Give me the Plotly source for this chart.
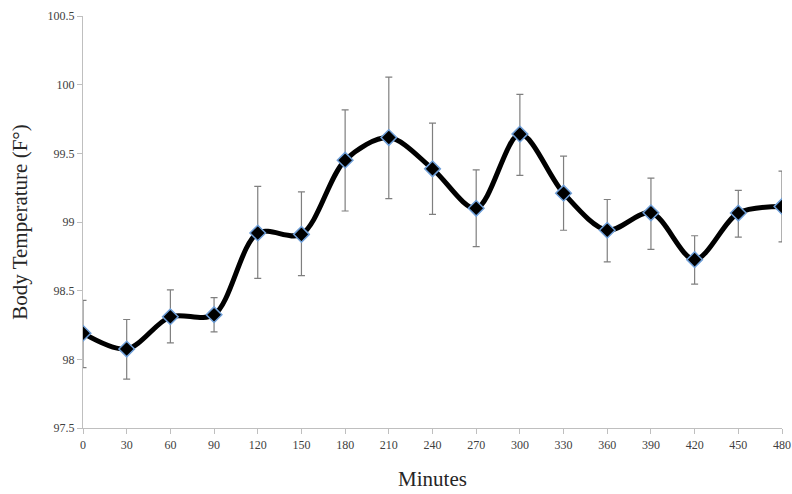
import plotly.graph_objects as go

minutes = [0, 30, 60, 90, 120, 150, 180, 210, 240, 270, 300, 330, 360, 390, 420, 450, 480]
temp = [98.19, 98.075, 98.31, 98.325, 98.92, 98.91, 99.45, 99.615, 99.387, 99.10, 99.64, 99.21,
        98.94, 99.067, 98.726, 99.065, 99.113]
err_hi = [98.43, 98.29, 98.506, 98.45, 99.26, 99.22, 99.817, 100.055, 99.72, 99.38, 99.93, 99.48,
          99.164, 99.32, 98.90, 99.23, 99.37]
err_lo = [97.94, 97.856, 98.12, 98.20, 98.59, 98.61, 99.08, 99.17, 99.055, 98.82, 99.34, 98.94,
          98.71, 98.80, 98.547, 98.89, 98.855]

plus = [h - v for h, v in zip(err_hi, temp)]
minus = [v - l for l, v in zip(err_lo, temp)]

fig = go.Figure()
fig.add_trace(go.Scatter(
    x=minutes, y=temp, mode="lines+markers",
    line=dict(color="black", width=5, shape="spline", smoothing=0.9),
    marker=dict(symbol="diamond", size=12, color="black",
                line=dict(color="#6f9fd8", width=1.5)),
    error_y=dict(type="data", symmetric=False, array=plus, arrayminus=minus,
                 color="#7f7f7f", thickness=1.2, width=3.5),
    showlegend=False,
))

font_family = "Liberation Serif, Times New Roman, serif"
fig.update_layout(
    width=792, height=494,
    margin=dict(l=83, r=10, t=16, b=66),
    paper_bgcolor="white", plot_bgcolor="white",
    font=dict(family=font_family, color="#404040"),
)
fig.update_xaxes(
    range=[0, 480], tickmode="array", tickvals=minutes, ticktext=[str(m) for m in minutes],
    showgrid=False, zeroline=False, showline=True, linecolor="#bfbfbf", linewidth=1.2,
    ticks="outside", ticklen=5, tickcolor="#bfbfbf", automargin=False,
    tickfont=dict(size=12, family=font_family, color="#404040"),
    title=dict(text="Minutes", font=dict(size=21, family=font_family, color="#262626"), standoff=20),
)
fig.update_yaxes(
    range=[97.5, 100.5], dtick=0.5, tick0=97.5,
    showgrid=False, zeroline=False, showline=True, linecolor="#bfbfbf", linewidth=1.2,
    ticks="outside", ticklen=5, tickcolor="#bfbfbf", automargin=False,
    tickfont=dict(size=12, family=font_family, color="#404040"),
    title=dict(text="Body Temperature (F°)", font=dict(size=21, family=font_family, color="#262626"), standoff=14),
)

fig.write_html("out.html", config={"displayModeBar": False},
               post_script="document.body.style.margin='0';")
